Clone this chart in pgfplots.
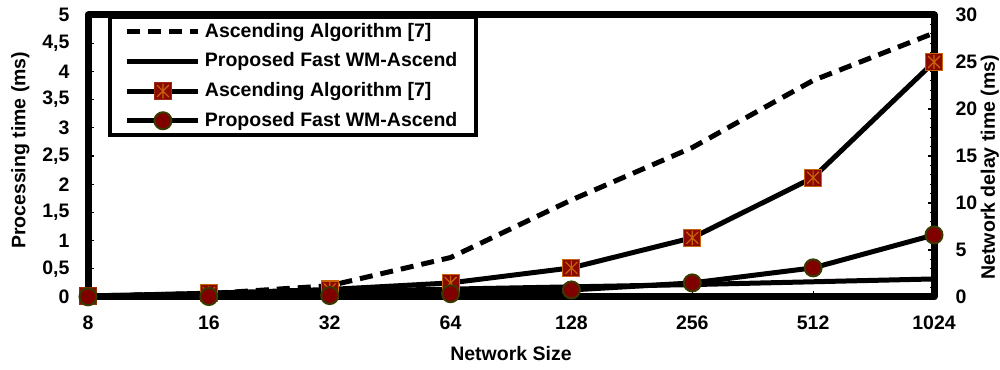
\documentclass[border=0pt]{standalone}
\usepackage{fontspec}
\setmainfont{Liberation Sans}
\usepackage{pgfplots}
\pgfplotsset{compat=1.18}
\definecolor{sqred}{HTML}{8B0A00}
\definecolor{sqedge}{HTML}{9A2A10}
\definecolor{astcol}{HTML}{C8640A}
\definecolor{cfill}{HTML}{800000}
\definecolor{cedge}{HTML}{3A3A00}
\pgfdeclareplotmark{sqast}{%
  \pgfpathrectangle{\pgfqpoint{-\pgfplotmarksize}{-\pgfplotmarksize}}{\pgfqpoint{2\pgfplotmarksize}{2\pgfplotmarksize}}%
  \pgfusepathqfillstroke
  \pgfsetstrokecolor{astcol}\pgfsetlinewidth{0.55pt}%
  \pgfpathmoveto{\pgfqpoint{0pt}{-0.85\pgfplotmarksize}}\pgfpathlineto{\pgfqpoint{0pt}{0.85\pgfplotmarksize}}%
  \pgfpathmoveto{\pgfqpoint{-0.7\pgfplotmarksize}{-0.7\pgfplotmarksize}}\pgfpathlineto{\pgfqpoint{0.7\pgfplotmarksize}{0.7\pgfplotmarksize}}%
  \pgfpathmoveto{\pgfqpoint{-0.7\pgfplotmarksize}{0.7\pgfplotmarksize}}\pgfpathlineto{\pgfqpoint{0.7\pgfplotmarksize}{-0.7\pgfplotmarksize}}%
  \pgfusepathqstroke
}
\newcommand\cf{\bfseries\fontsize{9.75}{11}\selectfont}
\begin{document}
\begin{tikzpicture}
\pgfplotsset{
  common/.style={scale only axis, width=423pt, height=141pt, xmin=0, xmax=7, clip=false,
    tick align=inside, major tick length=3pt, minor tick length=2pt,
    every tick/.style={black, line width=0.6pt},
    axis line style={-, line width=3.5pt, line join=round},
    ticklabel style={font=\cf}, label style={font=\cf},
    /pgf/number format/assume math mode=true}
}
\begin{axis}[common, name=ax1, ymin=0, ymax=5,
  xtick={0,...,7}, xticklabels={8,16,32,64,128,256,512,1024},
  ytick={0,0.5,1,1.5,2,2.5,3,3.5,4,4.5,5},
  yticklabels={0,{0,5},1,{1,5},2,{2,5},3,{3,5},4,{4,5},5},
  xtick pos=bottom, ytick pos=left, minor x tick num=1, minor y tick num=4,
  xlabel={Network Size}, xlabel style={at={(axis description cs:0.5,-0.199)}, anchor=center},
  ylabel={Processing time (ms)}, ylabel style={at={(axis description cs:-0.080,0.52)}, anchor=center},
  xticklabel style={yshift=-5.75pt}, yticklabel style={xshift=-5.75pt}]
\addplot[black, line width=2.5pt, dash pattern=on 6.5pt off 4pt] coordinates {(0,0.02) (1,0.06) (2,0.2) (3,0.7) (4,1.72) (5,2.65) (6,3.84) (7,4.68)};
\addplot[black, line width=2.5pt] coordinates {(0,0.01) (1,0.05) (2,0.1) (3,0.14) (4,0.18) (5,0.22) (6,0.27) (7,0.32)};
\end{axis}
\begin{axis}[common, ymin=0, ymax=30, ytick={0,5,...,30},
  axis x line=none, axis y line*=right, minor y tick num=4,
  ylabel={Network delay time (ms)}, ylabel style={at={(axis description cs:1.066,0.46)}, anchor=center},
  yticklabel style={xshift=7.25pt},
  legend style={at={(axis description cs:0.0236,1)}, anchor=north west, draw=black, line width=2pt, fill=white, font=\cf,
    inner xsep=7.5pt, inner ysep=1pt, row sep=2.3pt,
    /tikz/every even column/.append style={column sep=3pt}},
  legend cell align=left,
  legend image code/.code={\draw[mark repeat=2,mark phase=2,#1] plot coordinates {(0pt,0pt) (17.75pt,0pt) (35.5pt,0pt)};}]
\addlegendimage{black, line width=2.5pt, dash pattern=on 6.5pt off 4pt}
\addlegendentry{Ascending Algorithm [7]}
\addlegendimage{black, line width=2.5pt}
\addlegendentry{Proposed Fast WM-Ascend}
\addplot[black, line width=2.5pt, mark=sqast, mark size=4.25pt, mark options={solid, fill=sqred, draw=sqedge, line width=0.5pt}] coordinates {(0,0.1) (1,0.4) (2,0.8) (3,1.5) (4,3.1) (5,6.3) (6,12.7) (7,25.0)};
\addlegendentry{Ascending Algorithm [7]}
\addplot[black, line width=2.5pt, mark=*, mark size=4.25pt, mark options={solid, fill=cfill, draw=cedge, line width=1pt}] coordinates {(0,0.02) (1,0.05) (2,0.15) (3,0.35) (4,0.75) (5,1.5) (6,3.1) (7,6.6)};
\addlegendentry{Proposed Fast WM-Ascend}
\end{axis}
\pgfresetboundingbox
\path[use as bounding box] ([shift={(-44pt,-36pt)}]ax1.south west) rectangle ([shift={(33pt,7.5pt)}]ax1.north east);
\end{tikzpicture}
\end{document}
